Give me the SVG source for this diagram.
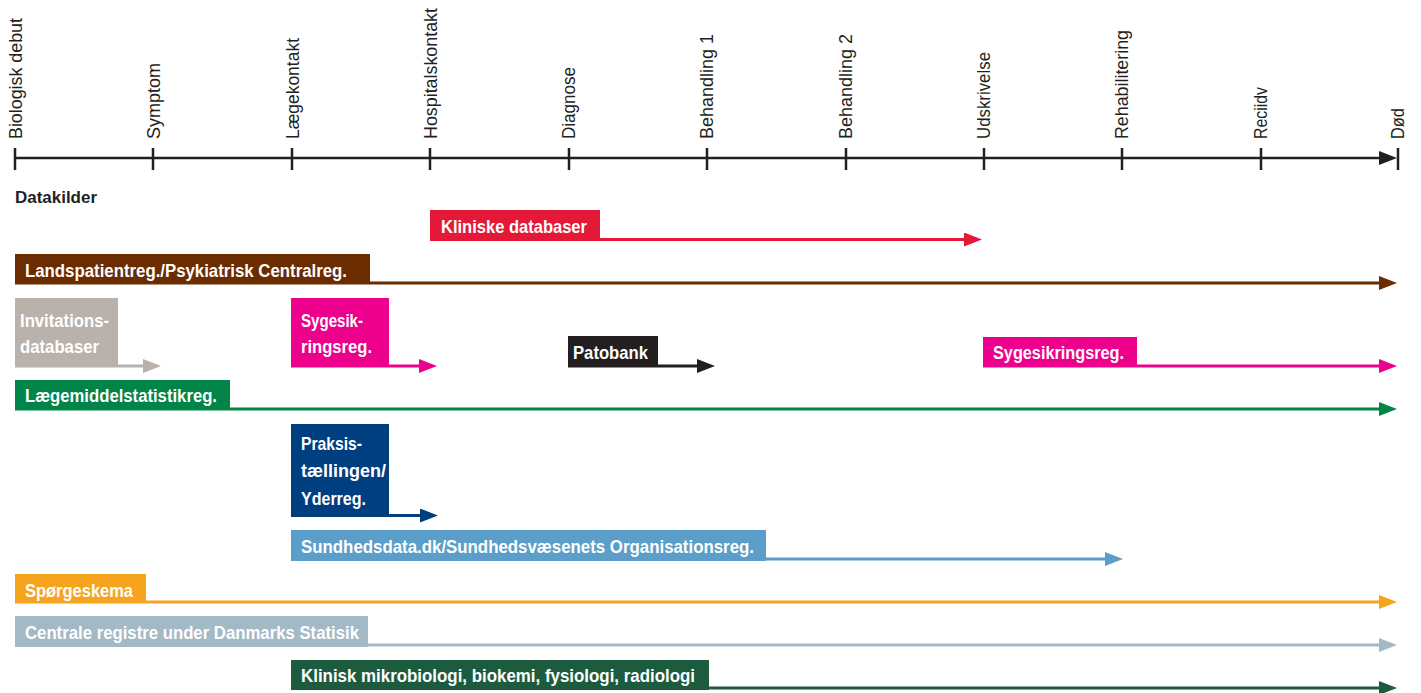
<svg xmlns="http://www.w3.org/2000/svg" width="1421" height="693" viewBox="0 0 1421 693">
<style>
.ax{stroke:#231f20;stroke-width:2.5;fill:none}
.tl{font-family:"Liberation Sans",Arial,sans-serif;font-size:17.5px;fill:#231f20}
.lb{font-family:"Liberation Sans",Arial,sans-serif;font-size:19px;font-weight:bold;fill:#ffffff}
.hd{font-family:"Liberation Sans",Arial,sans-serif;font-size:17px;font-weight:bold;fill:#231f20}
.ln{stroke-width:3;fill:none}
</style>
<defs>
<marker id="m-red" markerUnits="userSpaceOnUse" markerWidth="18" markerHeight="14" refX="1" refY="7" orient="auto"><path d="M0,0 L18,7 L0,14 z" fill="#e31937"/></marker>
<marker id="m-brown" markerUnits="userSpaceOnUse" markerWidth="18" markerHeight="14" refX="1" refY="7" orient="auto"><path d="M0,0 L18,7 L0,14 z" fill="#6b2c00"/></marker>
<marker id="m-beige" markerUnits="userSpaceOnUse" markerWidth="18" markerHeight="14" refX="1" refY="7" orient="auto"><path d="M0,0 L18,7 L0,14 z" fill="#b9b1ac"/></marker>
<marker id="m-mag" markerUnits="userSpaceOnUse" markerWidth="18" markerHeight="14" refX="1" refY="7" orient="auto"><path d="M0,0 L18,7 L0,14 z" fill="#ec008c"/></marker>
<marker id="m-black" markerUnits="userSpaceOnUse" markerWidth="18" markerHeight="14" refX="1" refY="7" orient="auto"><path d="M0,0 L18,7 L0,14 z" fill="#231f20"/></marker>
<marker id="m-green" markerUnits="userSpaceOnUse" markerWidth="18" markerHeight="14" refX="1" refY="7" orient="auto"><path d="M0,0 L18,7 L0,14 z" fill="#008448"/></marker>
<marker id="m-navy" markerUnits="userSpaceOnUse" markerWidth="18" markerHeight="14" refX="1" refY="7" orient="auto"><path d="M0,0 L18,7 L0,14 z" fill="#003f7f"/></marker>
<marker id="m-sky" markerUnits="userSpaceOnUse" markerWidth="18" markerHeight="14" refX="1" refY="7" orient="auto"><path d="M0,0 L18,7 L0,14 z" fill="#5a9ec9"/></marker>
<marker id="m-orange" markerUnits="userSpaceOnUse" markerWidth="18" markerHeight="14" refX="1" refY="7" orient="auto"><path d="M0,0 L18,7 L0,14 z" fill="#f6a31e"/></marker>
<marker id="m-gb" markerUnits="userSpaceOnUse" markerWidth="18" markerHeight="14" refX="1" refY="7" orient="auto"><path d="M0,0 L18,7 L0,14 z" fill="#a3b9c6"/></marker>
<marker id="m-dg" markerUnits="userSpaceOnUse" markerWidth="18" markerHeight="14" refX="1" refY="7" orient="auto"><path d="M0,0 L18,7 L0,14 z" fill="#1d5b3f"/></marker>
</defs>
<rect width="1421" height="693" fill="#ffffff"/>

<g id="timeline">
<line class="ax" x1="15" y1="158" x2="1382" y2="158"/>
<path d="M1379,151 L1397,158 L1379,165 z" fill="#231f20"/>
<g class="ax">
<line x1="15" y1="148" x2="15" y2="170"/>
<line x1="153" y1="148" x2="153" y2="170"/>
<line x1="292" y1="148" x2="292" y2="170"/>
<line x1="430" y1="148" x2="430" y2="170"/>
<line x1="569" y1="148" x2="569" y2="170"/>
<line x1="707" y1="148" x2="707" y2="170"/>
<line x1="846" y1="148" x2="846" y2="170"/>
<line x1="984" y1="148" x2="984" y2="170"/>
<line x1="1122" y1="148" x2="1122" y2="170"/>
<line x1="1261" y1="148" x2="1261" y2="170"/>
<line x1="1398" y1="148" x2="1398" y2="170"/>
</g>
<text class="tl" transform="translate(22,139) rotate(-90)" textLength="121" lengthAdjust="spacingAndGlyphs">Biologisk debut</text>
<text class="tl" transform="translate(160,139) rotate(-90)" textLength="76" lengthAdjust="spacingAndGlyphs">Symptom</text>
<text class="tl" transform="translate(299,139) rotate(-90)" textLength="101" lengthAdjust="spacingAndGlyphs">Lægekontakt</text>
<text class="tl" transform="translate(437,139) rotate(-90)" textLength="131" lengthAdjust="spacingAndGlyphs">Hospitalskontakt</text>
<text class="tl" transform="translate(575,139) rotate(-90)" textLength="72" lengthAdjust="spacingAndGlyphs">Diagnose</text>
<text class="tl" transform="translate(713,139) rotate(-90)" textLength="105" lengthAdjust="spacingAndGlyphs">Behandling 1</text>
<text class="tl" transform="translate(852,139) rotate(-90)" textLength="105" lengthAdjust="spacingAndGlyphs">Behandling 2</text>
<text class="tl" transform="translate(990,139) rotate(-90)" textLength="87" lengthAdjust="spacingAndGlyphs">Udskrivelse</text>
<text class="tl" transform="translate(1128,139) rotate(-90)" textLength="109" lengthAdjust="spacingAndGlyphs">Rehabilitering</text>
<text class="tl" transform="translate(1267,139) rotate(-90)" textLength="52" lengthAdjust="spacingAndGlyphs">Reciidv</text>
<text class="tl" transform="translate(1404,139) rotate(-90)" textLength="31" lengthAdjust="spacingAndGlyphs">Død</text>
</g>

<text class="hd" x="15" y="203" textLength="82" lengthAdjust="spacingAndGlyphs">Datakilder</text>

<g id="connectors">
<line class="ln" stroke="#e31937" x1="430" y1="239.5" x2="965" y2="239.5" marker-end="url(#m-red)"/>
<line class="ln" stroke="#6b2c00" x1="15" y1="283" x2="1380" y2="283" marker-end="url(#m-brown)"/>
<line class="ln" stroke="#b9b1ac" x1="15" y1="366" x2="144" y2="366" marker-end="url(#m-beige)"/>
<line class="ln" stroke="#ec008c" x1="291" y1="366" x2="420" y2="366" marker-end="url(#m-mag)"/>
<line class="ln" stroke="#231f20" x1="568" y1="366" x2="698" y2="366" marker-end="url(#m-black)"/>
<line class="ln" stroke="#ec008c" x1="983" y1="366" x2="1380" y2="366" marker-end="url(#m-mag)"/>
<line class="ln" stroke="#008448" x1="15" y1="409" x2="1380" y2="409" marker-end="url(#m-green)"/>
<line class="ln" stroke="#003f7f" x1="291" y1="515.5" x2="421" y2="515.5" marker-end="url(#m-navy)"/>
<line class="ln" stroke="#5a9ec9" x1="291" y1="559" x2="1106" y2="559" marker-end="url(#m-sky)"/>
<line class="ln" stroke="#f6a31e" x1="15" y1="602" x2="1380" y2="602" marker-end="url(#m-orange)"/>
<line class="ln" stroke="#a3b9c6" x1="15" y1="645" x2="1380" y2="645" marker-end="url(#m-gb)"/>
<line class="ln" stroke="#1d5b3f" x1="291" y1="688" x2="1380" y2="688" marker-end="url(#m-dg)"/>
</g>

<g id="kliniske-databaser">
<rect x="430" y="210" width="170" height="31" fill="#e31937"/>
<text class="lb" x="441" y="233" textLength="146" lengthAdjust="spacingAndGlyphs">Kliniske databaser</text>
</g>
<g id="landspatientreg">
<rect x="15" y="254" width="355" height="30" fill="#6b2c00"/>
<text class="lb" x="25" y="277" textLength="322" lengthAdjust="spacingAndGlyphs">Landspatientreg./Psykiatrisk Centralreg.</text>
</g>
<g id="invitationsdatabaser">
<rect x="15" y="298" width="103" height="69" fill="#b9b1ac"/>
<text class="lb" x="20" y="327" textLength="89" lengthAdjust="spacingAndGlyphs">Invitations-</text>
<text class="lb" x="20" y="353" textLength="79" lengthAdjust="spacingAndGlyphs">databaser</text>
</g>
<g id="sygesikringsreg-1">
<rect x="291" y="298" width="98" height="69" fill="#ec008c"/>
<text class="lb" x="301" y="327" textLength="62" lengthAdjust="spacingAndGlyphs">Sygesik-</text>
<text class="lb" x="301" y="353" textLength="71" lengthAdjust="spacingAndGlyphs">ringsreg.</text>
</g>
<g id="patobank">
<rect x="568" y="336" width="90" height="31" fill="#231f20"/>
<text class="lb" x="573" y="359" textLength="75" lengthAdjust="spacingAndGlyphs">Patobank</text>
</g>
<g id="sygesikringsreg-2">
<rect x="983" y="337" width="154" height="30" fill="#ec008c"/>
<text class="lb" x="993" y="359" textLength="131" lengthAdjust="spacingAndGlyphs">Sygesikringsreg.</text>
</g>
<g id="laegemiddelstatistikreg">
<rect x="15" y="380" width="215" height="30" fill="#008448"/>
<text class="lb" x="25" y="402" textLength="192" lengthAdjust="spacingAndGlyphs">Lægemiddelstatistikreg.</text>
</g>
<g id="praksistaellingen">
<rect x="291" y="424" width="98" height="93" fill="#003f7f"/>
<text class="lb" x="301" y="450" textLength="61" lengthAdjust="spacingAndGlyphs">Praksis-</text>
<text class="lb" x="301" y="477" textLength="85" lengthAdjust="spacingAndGlyphs">tællingen/</text>
<text class="lb" x="301" y="505" textLength="65" lengthAdjust="spacingAndGlyphs">Yderreg.</text>
</g>
<g id="sundhedsdata">
<rect x="291" y="530" width="475" height="31" fill="#5a9ec9"/>
<text class="lb" x="301" y="553" textLength="453" lengthAdjust="spacingAndGlyphs">Sundhedsdata.dk/Sundhedsvæsenets Organisationsreg.</text>
</g>
<g id="spoergeskema">
<rect x="15" y="574" width="131" height="29" fill="#f6a31e"/>
<text class="lb" x="25" y="597" textLength="108" lengthAdjust="spacingAndGlyphs">Spørgeskema</text>
</g>
<g id="centrale-registre">
<rect x="15" y="616" width="353" height="31" fill="#a3b9c6"/>
<text class="lb" x="25" y="639" textLength="334" lengthAdjust="spacingAndGlyphs">Centrale registre under Danmarks Statisik</text>
</g>
<g id="klinisk-mikrobiologi">
<rect x="291" y="660" width="418" height="30" fill="#1d5b3f"/>
<text class="lb" x="301" y="682" textLength="394" lengthAdjust="spacingAndGlyphs">Klinisk mikrobiologi, biokemi, fysiologi, radiologi</text>
</g>
</svg>
